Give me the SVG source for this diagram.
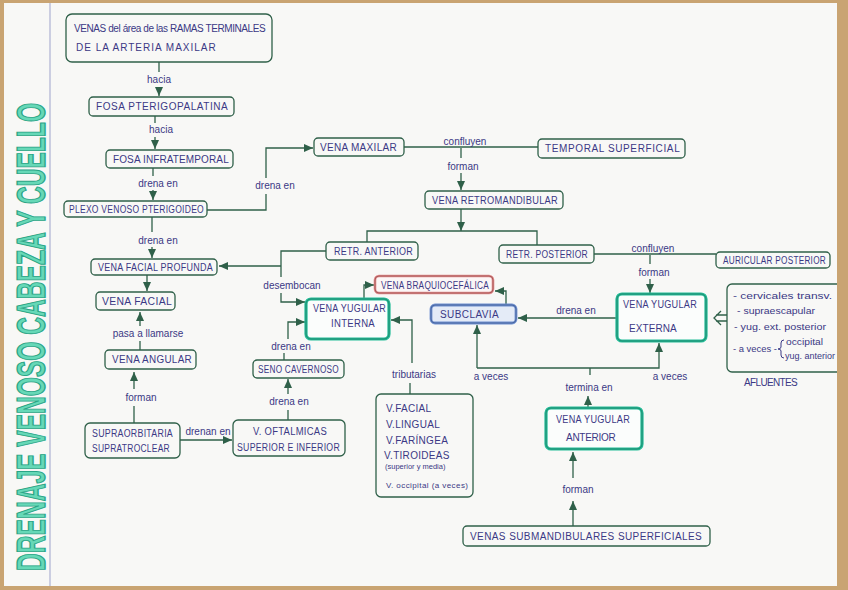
<svg xmlns="http://www.w3.org/2000/svg" width="848" height="590" viewBox="0 0 848 590">
<defs>
<style>
.box{fill:none;stroke:#2f6049;stroke-width:1.3}
.teal{fill:#fbfdfc;stroke:#24bd98;stroke-width:3.2}
.tealin{fill:none;stroke:#1f7a62;stroke-width:0.8}
.t{font-family:"Liberation Sans",Arial,sans-serif;font-size:10px;fill:#3b3985;letter-spacing:0.3px}
.l{font-family:"Liberation Sans",Arial,sans-serif;font-size:10px;fill:#3b3985;text-anchor:middle}
.s{font-family:"Liberation Sans",Arial,sans-serif;font-size:9.5px;fill:#3b3985}
.c{fill:none;stroke:#2f6049;stroke-width:1.3}
.a{marker-end:url(#ah)}
</style>
<marker id="ah" markerUnits="userSpaceOnUse" markerWidth="10" markerHeight="10" viewBox="0 0 10 10" refX="9" refY="5" orient="auto">
<path d="M0,1 L9,5 L0,9 Z" fill="#2f6049"/>
</marker>
</defs>
<rect x="0" y="0" width="848" height="590" fill="#c9a472"/>
<rect x="4" y="3" width="833" height="583" fill="#f8f8f6"/>
<line x1="50" y1="3" x2="50" y2="586" stroke="#9ea3cb" stroke-width="1"/>
<text transform="translate(45,571) rotate(-90) scale(1,1.65)" font-family="Liberation Sans,Arial,sans-serif" font-weight="bold" font-size="24.5" textLength="468" lengthAdjust="spacingAndGlyphs" fill="#66d8b7" stroke="#2aa586" stroke-width="0.8">DRENAJE VENOSO CABEZA Y CUELLO</text>

<g id="connectors">
<path class="c" d="M159,62 V72"/>
<path class="c a" d="M159,87 V96"/>
<path class="c" d="M155,116 V123"/>
<path class="c a" d="M155,137 V149"/>
<path class="c" d="M153,168 V176"/>
<path class="c a" d="M153,190 V200"/>
<path class="c" d="M207,210 H266 V194"/>
<path class="c a" d="M266,178 V148 H313"/>
<path class="c" d="M152,217 V232"/>
<path class="c a" d="M152,247 V258"/>
<path class="c" d="M404,147 H538"/>
<path class="c" d="M461,148 V158"/>
<path class="c a" d="M461,173 V190"/>
<path class="c a" d="M461,209 V231"/>
<path class="c" d="M367,242 V231 H537 V245"/>
<path class="c" d="M326,251 H281 V277"/>
<path class="c a" d="M281,293 V302 H305"/>
<path class="c a" d="M281,266 H219"/>
<path class="c a" d="M147,275 V291"/>
<path class="c" d="M140,350 V341"/>
<path class="c a" d="M140,326 V312"/>
<path class="c" d="M134,423 V406"/>
<path class="c a" d="M134,389 V372"/>
<path class="c a" d="M180,440 H232"/>
<path class="c" d="M288,420 V410"/>
<path class="c a" d="M288,394 V379"/>
<path class="c" d="M284,360 V353"/>
<path class="c a" d="M288,339 V322 H305"/>
<path class="c a" d="M412,363 V320 H391"/>
<path class="c" d="M410,383 V394"/>
<path class="c a" d="M364,299 V285 H374"/>
<path class="c a" d="M506,305 V291 H495"/>
<path class="c a" d="M617,318 H518"/>
<path class="c" d="M594,254 H716"/>
<path class="c" d="M650,255 V264"/>
<path class="c a" d="M650,279 V293"/>
<path class="c a" d="M477,368 V325"/>
<path class="c a" d="M477,368 H659 V343"/>
<path class="c" d="M590,368 V375"/>
<path class="c a" d="M588,408 V396"/>
<path class="c a" d="M573,526 V501"/>
<path class="c a" d="M573,478 V452"/>
<path class="c" d="M727,315 H716 M727,321 H716 M721,311 L714,318 L721,325"/>
</g>

<g id="labels">
<text class="l" x="159" y="83">hacia</text>
<text class="l" x="161" y="133">hacia</text>
<text class="l" x="158" y="187">drena en</text>
<text class="l" x="275" y="189">drena en</text>
<text class="l" x="465" y="145">confluyen</text>
<text class="l" x="463" y="170">forman</text>
<text class="l" x="158" y="244">drena en</text>
<text class="l" x="292" y="289">desembocan</text>
<text class="l" x="148" y="337">pasa a llamarse</text>
<text class="l" x="141" y="401">forman</text>
<text class="l" x="208" y="435">drenan en</text>
<text class="l" x="289" y="405">drena en</text>
<text class="l" x="291" y="350">drena en</text>
<text class="l" x="414" y="378">tributarias</text>
<text class="l" x="491" y="380">a veces</text>
<text class="l" x="670" y="380">a veces</text>
<text class="l" x="589" y="391">termina en</text>
<text class="l" x="578" y="493">forman</text>
<text class="l" x="576" y="314">drena en</text>
<text class="l" x="653" y="252">confluyen</text>
<text class="l" x="654" y="276">forman</text>
</g>

<g id="n-venas-area">
<rect class="box" x="66" y="14" width="206" height="48" rx="6"/>
<text class="t" x="74" y="32" textLength="192" lengthAdjust="spacing">VENAS del área de las RAMAS TERMINALES</text>
<text class="t" x="76" y="51" textLength="140" lengthAdjust="spacing">DE   LA   ARTERIA  MAXILAR</text>
</g>
<g id="n-fosa-pterigopalatina">
<rect class="box" x="89" y="97" width="145" height="19" rx="4"/>
<text class="t" x="96" y="110" textLength="132" lengthAdjust="spacing">FOSA PTERIGOPALATINA</text>
</g>
<g id="n-fosa-infratemporal">
<rect class="box" x="106" y="150" width="127" height="18" rx="4"/>
<text class="t" x="113" y="163" textLength="116" lengthAdjust="spacing">FOSA INFRATEMPORAL</text>
</g>
<g id="n-plexo">
<rect class="box" x="64" y="201" width="143" height="16" rx="4"/>
<text class="t" x="69" y="213" textLength="135" lengthAdjust="spacingAndGlyphs">PLEXO VENOSO PTERIGOIDEO</text>
</g>
<g id="n-vena-maxilar">
<rect class="box" x="314" y="138" width="90" height="18" rx="4"/>
<text class="t" x="320" y="151" textLength="77" lengthAdjust="spacing">VENA MAXILAR</text>
</g>
<g id="n-temporal">
<rect class="box" x="538" y="139" width="147" height="19" rx="4"/>
<text class="t" x="545" y="152" textLength="135" lengthAdjust="spacing">TEMPORAL SUPERFICIAL</text>
</g>
<g id="n-retromandibular">
<rect class="box" x="425" y="191" width="138" height="18" rx="4"/>
<text class="t" x="432" y="204" textLength="126" lengthAdjust="spacingAndGlyphs">VENA RETROMANDIBULAR</text>
</g>
<g id="n-retr-anterior">
<rect class="box" x="326" y="242" width="92" height="18" rx="4"/>
<text class="t" x="334" y="255" textLength="79" lengthAdjust="spacingAndGlyphs">RETR. ANTERIOR</text>
</g>
<g id="n-retr-posterior">
<rect class="box" x="499" y="245" width="95" height="18" rx="4"/>
<text class="t" x="506" y="258" textLength="82" lengthAdjust="spacingAndGlyphs">RETR. POSTERIOR</text>
</g>
<g id="n-auricular">
<rect class="box" x="716" y="252" width="114" height="16" rx="4"/>
<text class="t" x="723" y="264" textLength="103" lengthAdjust="spacingAndGlyphs">AURICULAR POSTERIOR</text>
</g>
<g id="n-facial-profunda">
<rect class="box" x="91" y="259" width="126" height="16" rx="4"/>
<text class="t" x="98" y="271" textLength="115" lengthAdjust="spacingAndGlyphs">VENA FACIAL PROFUNDA</text>
</g>
<g id="n-facial">
<rect class="box" x="96" y="292" width="79" height="18" rx="4"/>
<text class="t" x="102" y="305" textLength="70" lengthAdjust="spacingAndGlyphs">VENA FACIAL</text>
</g>
<g id="n-angular">
<rect class="box" x="105" y="350" width="91" height="19" rx="4"/>
<text class="t" x="112" y="363" textLength="80" lengthAdjust="spacingAndGlyphs">VENA ANGULAR</text>
</g>
<g id="n-supraorbitaria">
<rect class="box" x="85" y="423" width="95" height="35" rx="5"/>
<text class="t" x="92" y="437" textLength="81" lengthAdjust="spacingAndGlyphs">SUPRAORBITARIA</text>
<text class="t" x="92" y="452" textLength="78" lengthAdjust="spacingAndGlyphs">SUPRATROCLEAR</text>
</g>
<g id="n-oftalmicas">
<rect class="box" x="233" y="420" width="112" height="36" rx="5"/>
<text class="t" x="253" y="435" textLength="74" lengthAdjust="spacingAndGlyphs">V. OFTALMICAS</text>
<text class="t" x="237" y="451" textLength="103" lengthAdjust="spacingAndGlyphs">SUPERIOR E INFERIOR</text>
</g>
<g id="n-seno">
<rect class="box" x="253" y="360" width="91" height="18" rx="4"/>
<text class="t" x="258" y="373" textLength="81" lengthAdjust="spacingAndGlyphs">SENO CAVERNOSO</text>
</g>
<g id="n-yugular-interna">
<rect class="teal" x="306" y="299" width="83" height="40" rx="5"/>
<rect class="tealin" x="306" y="299" width="83" height="40" rx="5"/>
<text class="t" x="313" y="312" textLength="73" lengthAdjust="spacingAndGlyphs">VENA YUGULAR</text>
<text class="t" x="331" y="327" textLength="44" lengthAdjust="spacingAndGlyphs">INTERNA</text>
</g>
<g id="n-braquiocefalica">
<rect x="375" y="276" width="118" height="17" rx="4" fill="#fbf6f6" stroke="#e38a8a" stroke-width="2.6"/>
<rect x="375" y="276" width="118" height="17" rx="4" fill="none" stroke="#7a3b3b" stroke-width="0.6"/>
<text class="t" x="381" y="289" textLength="108" lengthAdjust="spacingAndGlyphs">VENA BRAQUIOCEFÁLICA</text>
</g>
<g id="n-subclavia">
<rect x="431" y="305" width="85" height="18" rx="4" fill="#e4ebf7" stroke="#6f90cf" stroke-width="2.8"/>
<rect x="431" y="305" width="85" height="18" rx="4" fill="none" stroke="#2f4a80" stroke-width="0.6"/>
<text class="t" x="440" y="318" textLength="59" lengthAdjust="spacing">SUBCLAVIA</text>
</g>
<g id="n-yugular-externa">
<rect class="teal" x="617" y="294" width="89" height="47" rx="5"/>
<rect class="tealin" x="617" y="294" width="89" height="47" rx="5"/>
<text class="t" x="623" y="308" textLength="74" lengthAdjust="spacingAndGlyphs">VENA YUGULAR</text>
<text class="t" x="629" y="332" textLength="48" lengthAdjust="spacing">EXTERNA</text>
</g>
<g id="n-afluentes">
<rect class="box" x="727" y="284" width="120" height="88" rx="5"/>
<text class="s" x="733" y="299" textLength="99" lengthAdjust="spacingAndGlyphs">- cervicales transv.</text>
<text class="s" x="737" y="314" textLength="78" lengthAdjust="spacingAndGlyphs">- supraescapular</text>
<text class="s" x="734" y="330" textLength="92" lengthAdjust="spacingAndGlyphs">- yug. ext. posterior</text>
<text class="s" x="733" y="352" textLength="44" lengthAdjust="spacingAndGlyphs">- a veces -</text>
<path d="M784,340 q-3,0 -3,3 v4 q0,2 -3,2 q3,0 3,2 v4 q0,3 3,3" fill="none" stroke="#3b3985" stroke-width="1"/>
<text class="s" x="786" y="345" style="font-size:9px" textLength="37" lengthAdjust="spacingAndGlyphs">occipital</text>
<text class="s" x="785" y="359" style="font-size:9px" textLength="50" lengthAdjust="spacingAndGlyphs">yug. anterior</text>
<text class="t" x="744" y="386" textLength="54" lengthAdjust="spacing">AFLUENTES</text>
</g>
<g id="n-tributarias">
<rect class="box" x="376" y="394" width="97" height="103" rx="5"/>
<text class="t" x="386" y="412">V.FACIAL</text>
<text class="t" x="386" y="428">V.LINGUAL</text>
<text class="t" x="386" y="444">V.FARÍNGEA</text>
<text class="t" x="384" y="459">V.TIROIDEAS</text>
<text class="s" x="385" y="469" style="font-size:7.5px">(superior y media)</text>
<text class="s" x="386" y="488" style="font-size:8px" textLength="82" lengthAdjust="spacing">V. occipital (a veces)</text>
</g>
<g id="n-yugular-anterior">
<rect class="teal" x="546" y="408" width="96" height="41" rx="5"/>
<rect class="tealin" x="546" y="408" width="96" height="41" rx="5"/>
<text class="t" x="556" y="423" textLength="74" lengthAdjust="spacingAndGlyphs">VENA YUGULAR</text>
<text class="t" x="566" y="441" textLength="50" lengthAdjust="spacing">ANTERIOR</text>
</g>
<g id="n-submandibulares">
<rect class="box" x="463" y="526" width="247" height="20" rx="4"/>
<text class="t" x="470" y="540" textLength="232" lengthAdjust="spacing">VENAS SUBMANDIBULARES SUPERFICIALES</text>
</g>
<rect x="837" y="0" width="11" height="590" fill="#c9a472"/>
</svg>
